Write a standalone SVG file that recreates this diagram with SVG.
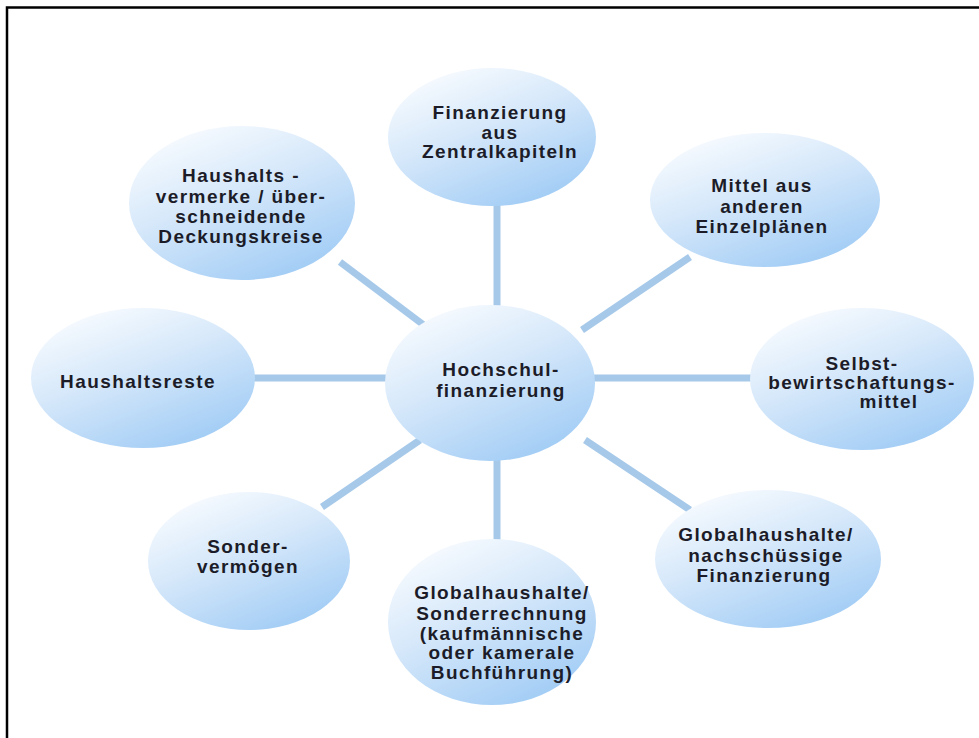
<svg xmlns="http://www.w3.org/2000/svg" width="979" height="738" viewBox="0 0 979 738">
<defs>
<linearGradient id="g" x1="0.15" y1="0" x2="0.75" y2="1">
<stop offset="0" stop-color="#fbfdff"/>
<stop offset="0.45" stop-color="#d6e8fa"/>
<stop offset="1" stop-color="#9fcbf5"/>
</linearGradient>
<style>
.n{fill:url(#g);}
.c{stroke:#a6c9ea;stroke-width:7;stroke-linecap:butt;}
text{font-family:"Liberation Sans",Arial,sans-serif;font-weight:bold;font-size:19px;letter-spacing:1.4px;fill:#1c1c28;text-anchor:middle;}
</style>
</defs>
<rect x="0" y="0" width="979" height="738" fill="#ffffff"/>
<rect x="7" y="7.5" width="990" height="760" fill="none" stroke="#000" stroke-width="2.5"/>
<g id="connectors">
<line class="c" x1="497" y1="200" x2="497" y2="310"/>
<line class="c" x1="497" y1="455" x2="497" y2="545"/>
<line class="c" x1="250" y1="378" x2="390" y2="378"/>
<line class="c" x1="590" y1="378" x2="755" y2="378"/>
<line class="c" x1="340" y1="262" x2="425" y2="326"/>
<line class="c" x1="690" y1="257" x2="582" y2="330"/>
<line class="c" x1="322" y1="507" x2="420" y2="440"/>
<line class="c" x1="585" y1="440" x2="690" y2="510"/>
</g>
<g id="n-top">
<ellipse class="n" cx="492" cy="137" rx="104" ry="69"/>
<text x="500" y="119">Finanzierung</text>
<text x="500" y="139">aus</text>
<text x="500" y="158">Zentralkapiteln</text>
</g>
<g id="n-topright">
<ellipse class="n" cx="765" cy="200" rx="115" ry="67"/>
<text x="762" y="192">Mittel aus</text>
<text x="762" y="213">anderen</text>
<text x="762" y="233">Einzelplänen</text>
</g>
<g id="n-right">
<ellipse class="n" cx="862" cy="379" rx="112" ry="71"/>
<text x="862" y="370">Selbst-</text>
<text x="862" y="389">bewirtschaftungs-</text>
<text x="889" y="408">mittel</text>
</g>
<g id="n-bottomright">
<ellipse class="n" cx="768" cy="559" rx="113" ry="69"/>
<text x="766" y="541">Globalhaushalte/</text>
<text x="766" y="562">nachschüssige</text>
<text x="764" y="582">Finanzierung</text>
</g>
<g id="n-bottom">
<ellipse class="n" cx="492" cy="622" rx="104" ry="83"/>
<text x="502" y="599">Globalhaushalte/</text>
<text x="502" y="620">Sonderrechnung</text>
<text x="502" y="640">(kaufmännische</text>
<text x="502" y="659">oder kamerale</text>
<text x="502" y="679">Buchführung)</text>
</g>
<g id="n-bottomleft">
<ellipse class="n" cx="249" cy="561" rx="101" ry="69"/>
<text x="248" y="553">Sonder-</text>
<text x="248" y="573">vermögen</text>
</g>
<g id="n-left">
<ellipse class="n" cx="143" cy="378" rx="112" ry="70"/>
<text x="138" y="388">Haushaltsreste</text>
</g>
<g id="n-topleft">
<ellipse class="n" cx="242" cy="203" rx="113" ry="77"/>
<text x="241" y="182">Haushalts -</text>
<text x="241" y="203">vermerke / über-</text>
<text x="241" y="223">schneidende</text>
<text x="241" y="243">Deckungskreise</text>
</g>
<g id="n-center">
<ellipse class="n" cx="490" cy="383" rx="105" ry="78"/>
<text x="501" y="376">Hochschul-</text>
<text x="501" y="397">finanzierung</text>
</g>
</svg>
